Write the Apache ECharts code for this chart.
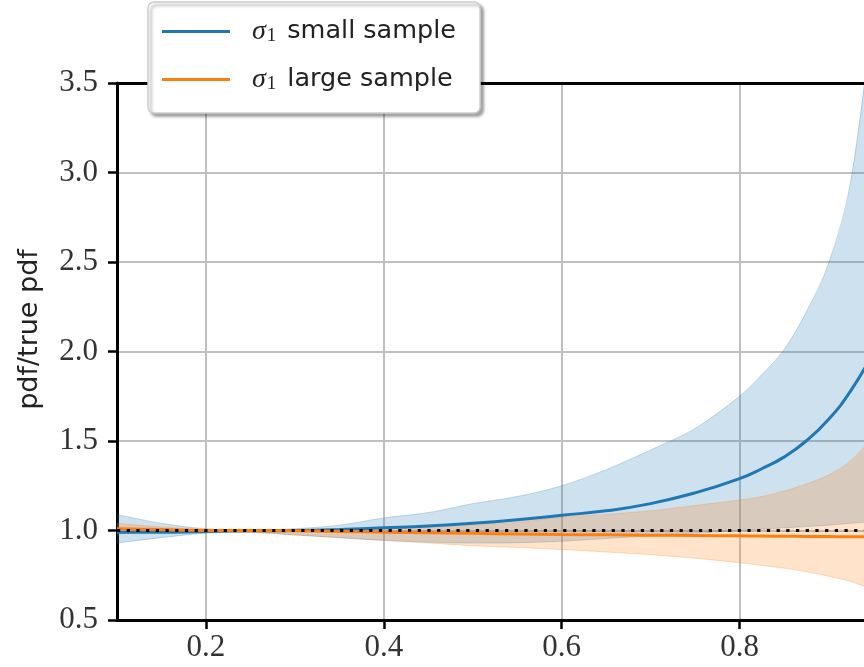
<!DOCTYPE html>
<html>
<head>
<meta charset="utf-8">
<script src="https://cdn.jsdelivr.net/npm/echarts@6/dist/echarts.min.js"></script>
<style>
  html, body { margin: 0; padding: 0; background: #fff; }
  #main { width: 864px; height: 667px; }
</style>
</head>
<body>
<div id="main"></div>
<script>
var chartDom = document.getElementById("main");
var myChart = echarts.init(chartDom, null, { renderer: "canvas" });
var option;

// data
var xs         = [0.1, 0.15, 0.2, 0.25, 0.3, 0.35, 0.4, 0.45, 0.5, 0.55, 0.6, 0.65, 0.7, 0.75, 0.8, 0.825, 0.85, 0.875, 0.9, 0.925, 0.95];
var smallMean  = [0.99, 0.99, 0.995, 0.998, 1.0, 1.006, 1.015, 1.025, 1.04, 1.06, 1.085, 1.11, 1.15, 1.21, 1.29, 1.345, 1.41, 1.5, 1.62, 1.78, 1.99];
var smallLow   = [0.93, 0.96, 0.985, 0.99, 0.975, 0.96, 0.945, 0.935, 0.93, 0.932, 0.94, 0.955, 0.97, 0.985, 1.0, 1.007, 1.015, 1.022, 1.03, 1.04, 1.05];
var smallHigh  = [1.09, 1.04, 1.01, 1.005, 1.01, 1.03, 1.07, 1.1, 1.15, 1.19, 1.25, 1.34, 1.45, 1.57, 1.75, 1.87, 2.01, 2.22, 2.49, 2.95, 3.9];
var largeMean  = [1.01, 1.005, 1.0, 1.0, 0.998, 0.995, 0.99, 0.987, 0.984, 0.981, 0.978, 0.976, 0.974, 0.972, 0.97, 0.969, 0.968, 0.967, 0.966, 0.965, 0.964];
var largeLow   = [0.98, 0.99, 0.995, 0.99, 0.975, 0.96, 0.945, 0.93, 0.915, 0.905, 0.894, 0.88, 0.865, 0.845, 0.82, 0.805, 0.79, 0.77, 0.745, 0.715, 0.67];
var largeHigh  = [1.04, 1.02, 1.005, 1.0, 1.0, 1.005, 1.01, 1.02, 1.03, 1.045, 1.075, 1.09, 1.11, 1.14, 1.17, 1.19, 1.22, 1.26, 1.31, 1.39, 1.52];
var refLine    = [[0.1, 1.0], [0.95, 1.0]];
var xTicks     = [0.2, 0.4, 0.6, 0.8];

var blue = "#1f77b4";
var orange = "#ff7f0e";

var serifFont = "Liberation Serif";
var sansFont = "DejaVu Sans";

function pairs(ys) {
  return xs.map(function (x, i) { return [x, ys[i]]; });
}

// band drawn as one path through the axes' own coord mapping
function bandSeries(lo, hi, fill, edge) {
  return {
    type: "custom",
    silent: true,
    clip: true,
    data: xs.map(function (x, i) { return [x, lo[i], hi[i]]; }),
    encode: { x: 0, y: [1, 2] },
    renderItem: function (params, api) {
      if (params.dataIndex !== 0) return null;
      var top = [], bot = [];
      for (var i = 0; i < xs.length; i++) {
        top.push(api.coord([xs[i], hi[i]]));
        bot.push(api.coord([xs[i], lo[i]]));
      }
      bot.reverse();
      return {
        type: "group",
        children: [
          { type: "polyline", shape: { points: top, smooth: 0.35 }, style: { fill: null, stroke: edge, lineWidth: 1 } },
          { type: "polyline", shape: { points: bot, smooth: 0.35 }, style: { fill: null, stroke: edge, lineWidth: 1 } },
          {
            type: "path",
            shape: { pathData: smoothPath(top.concat(bot)) },
            style: { fill: fill, stroke: null }
          }
        ]
      };
    }
  };
}

// catmull-rom style smoothing for the fill outline (top then bottom, closed)
function smoothPath(p) {
  var n = p.length;
  var d = "M" + p[0][0] + "," + p[0][1];
  var half = n / 2;
  for (var i = 0; i < n - 1; i++) {
    if (i === half - 1) { d += " L" + p[i + 1][0] + "," + p[i + 1][1]; continue; }
    var segStart = i < half ? 0 : half;
    var segEnd = i < half ? half - 1 : n - 1;
    var p0 = p[Math.max(segStart, i - 1)], p1 = p[i], p2 = p[i + 1], p3 = p[Math.min(segEnd, i + 2)];
    var t = 0.18;
    var c1x = p1[0] + (p2[0] - p0[0]) * t, c1y = p1[1] + (p2[1] - p0[1]) * t;
    var c2x = p2[0] - (p3[0] - p1[0]) * t, c2y = p2[1] - (p3[1] - p1[1]) * t;
    d += " C" + c1x + "," + c1y + " " + c2x + "," + c2y + " " + p2[0] + "," + p2[1];
  }
  return d + " Z";
}

option = {
  backgroundColor: "#fff",
  animation: false,
  grid: { left: 117, top: 83, right: 0, bottom: 47 },
  legend: {
    left: 148,
    top: 2,
    orient: "vertical",
    data: ["small", "large"],
    icon: "path://M0,0 L68,0 L68,3 L0,3 Z",
    itemWidth: 68,
    itemHeight: 3,
    itemGap: 19,
    padding: [15, 24, 19, 14],
    backgroundColor: "#fff",
    borderColor: "#cccccc",
    borderWidth: 1.5,
    borderRadius: 6,
    shadowColor: "rgba(0,0,0,0.35)",
    shadowBlur: 3,
    shadowOffsetX: 3,
    shadowOffsetY: 3,
    formatter: function (name) {
      return "{s|σ}{n|1}{t|" + name + " sample}";
    },
    textStyle: {
      padding: [0, 0, 0, 17],
      rich: {
        s: { fontFamily: serifFont, fontStyle: "italic", fontSize: 28, color: "#222", lineHeight: 32 },
        n: { fontFamily: serifFont, fontSize: 19, color: "#222", padding: [10, 11, 0, 1], lineHeight: 32 },
        t: { fontFamily: sansFont, fontSize: 25.5, color: "#222", lineHeight: 32 }
      }
    }
  },
  xAxis: [
    {
      type: "value",
      min: 0.1,
      max: 0.94,
      axisLine: { show: true, onZero: false, lineStyle: { color: "#000", width: 3 } },
      axisTick: { show: true, customValues: xTicks, length: 9, lineStyle: { color: "#000", width: 2.5 } },
      axisLabel: {
        customValues: xTicks,
        margin: 12,
        fontFamily: serifFont,
        fontSize: 31,
        color: "#333",
        formatter: function (v) { return v.toFixed(1); }
      },
      splitLine: { show: true, lineStyle: { color: "#c0c0c0", width: 2 } }
    },
    {
      type: "value",
      position: "top",
      min: 0.1,
      max: 0.94,
      axisLine: { show: true, onZero: false, lineStyle: { color: "#000", width: 3 } },
      axisTick: { show: false },
      axisLabel: { show: false },
      splitLine: { show: false }
    }
  ],
  yAxis: {
    type: "value",
    min: 0.5,
    max: 3.5,
    interval: 0.5,
    name: "pdf/true pdf",
    nameLocation: "middle",
    nameRotate: 90,
    nameGap: 74,
    nameTextStyle: { fontFamily: sansFont, fontSize: 27, color: "#222", padding: [0, 0, 0, 44] },
    axisLine: { show: true, onZero: false, lineStyle: { color: "#000", width: 3 } },
    axisTick: { show: true, length: 9, lineStyle: { color: "#000", width: 2.5 } },
    axisLabel: {
      margin: 19,
      fontFamily: serifFont,
      fontSize: 31,
      color: "#333",
      formatter: function (v) { return v.toFixed(1); }
    },
    splitLine: { show: true, lineStyle: { color: "#c0c0c0", width: 2 } }
  },
  series: [
    bandSeries(smallLow, smallHigh, "rgba(31,119,180,0.22)", "rgba(31,119,180,0.25)"),
    bandSeries(largeLow, largeHigh, "rgba(255,127,14,0.22)", "rgba(255,127,14,0.25)"),
    {
      name: "small",
      type: "line",
      symbol: "none",
      smooth: true,
      color: blue,
      data: pairs(smallMean),
      lineStyle: { width: 3, color: blue }
    },
    {
      name: "large",
      type: "line",
      symbol: "none",
      smooth: true,
      color: orange,
      data: pairs(largeMean),
      lineStyle: { width: 3, color: orange }
    },
    {
      name: "ref",
      type: "line",
      symbol: "none",
      data: refLine,
      lineStyle: { width: 3.2, color: "#000", type: [3.2, 6.5] },
      silent: true
    }
  ]
};

option && myChart.setOption(option);
</script>
</body>
</html>
